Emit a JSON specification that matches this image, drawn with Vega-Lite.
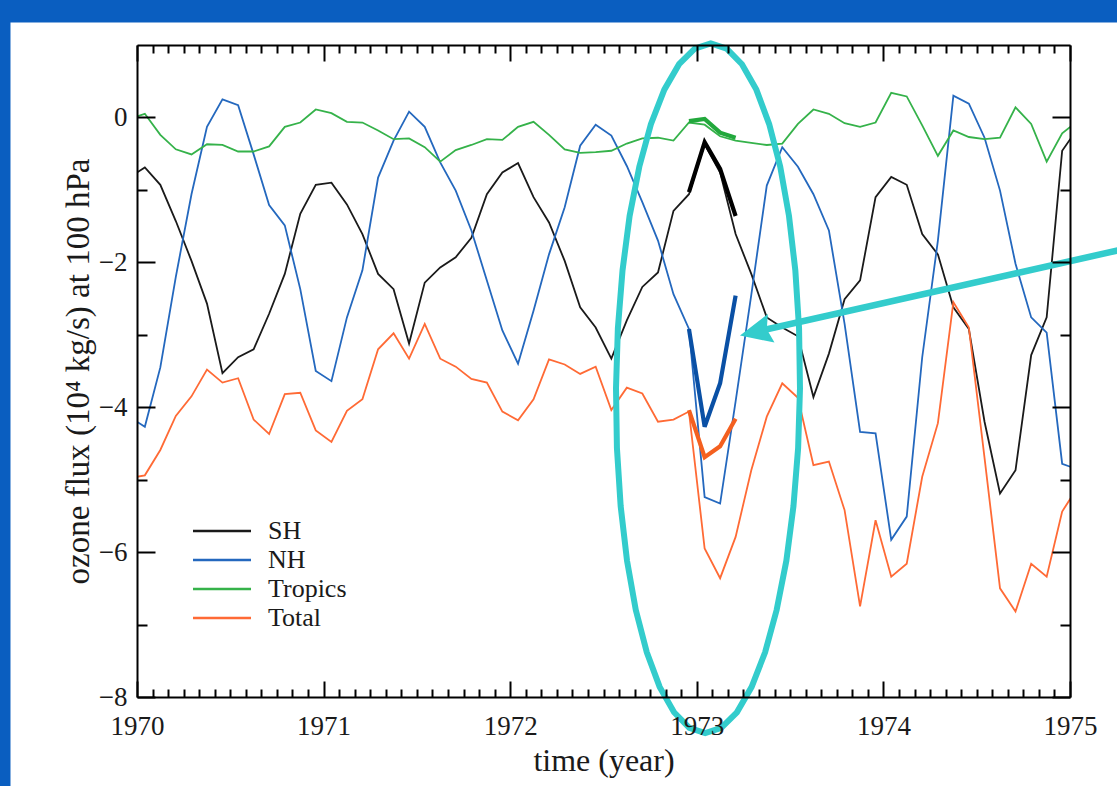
{
  "$schema": "https://vega.github.io/schema/vega-lite/v6.json",
  "width": 933,
  "height": 652,
  "autosize": {"type": "none"},
  "padding": {"left": 137, "top": 45, "right": 47, "bottom": 89},
  "background": "#0A5EC0",
  "config": {
    "view": {"stroke": null},
    "axis": {"grid": false, "domainColor": "#000", "domainWidth": 2, "tickColor": "#000", "tickWidth": 2, "labelFont": "Liberation Serif", "labelFontSize": 27, "labelColor": "#1a1a1a", "titleFont": "Liberation Serif", "titleFontSize": 31, "titleFontWeight": "normal", "titleColor": "#1a1a1a", "labelFlush": false, "labelOverlap": false}
  },
  "datasets": {
    "series": [
      {"t": 1969.958, "SH": -0.83, "NH": -4.13, "Tropics": -0.02, "Total": -4.98},
      {"t": 1970.042, "SH": -0.69, "NH": -4.27, "Tropics": 0.05, "Total": -4.94},
      {"t": 1970.125, "SH": -0.93, "NH": -3.45, "Tropics": -0.24, "Total": -4.59},
      {"t": 1970.208, "SH": -1.43, "NH": -2.2, "Tropics": -0.44, "Total": -4.12},
      {"t": 1970.292, "SH": -1.98, "NH": -1.06, "Tropics": -0.51, "Total": -3.85},
      {"t": 1970.375, "SH": -2.57, "NH": -0.13, "Tropics": -0.37, "Total": -3.48},
      {"t": 1970.458, "SH": -3.53, "NH": 0.25, "Tropics": -0.38, "Total": -3.66},
      {"t": 1970.542, "SH": -3.31, "NH": 0.17, "Tropics": -0.47, "Total": -3.6},
      {"t": 1970.625, "SH": -3.2, "NH": -0.51, "Tropics": -0.47, "Total": -4.17},
      {"t": 1970.708, "SH": -2.71, "NH": -1.21, "Tropics": -0.4, "Total": -4.37},
      {"t": 1970.792, "SH": -2.16, "NH": -1.49, "Tropics": -0.13, "Total": -3.82},
      {"t": 1970.875, "SH": -1.33, "NH": -2.37, "Tropics": -0.07, "Total": -3.8},
      {"t": 1970.958, "SH": -0.93, "NH": -3.5, "Tropics": 0.11, "Total": -4.32},
      {"t": 1971.042, "SH": -0.9, "NH": -3.64, "Tropics": 0.06, "Total": -4.48},
      {"t": 1971.125, "SH": -1.2, "NH": -2.76, "Tropics": -0.06, "Total": -4.05},
      {"t": 1971.208, "SH": -1.61, "NH": -2.11, "Tropics": -0.07, "Total": -3.89},
      {"t": 1971.292, "SH": -2.16, "NH": -0.83, "Tropics": -0.18, "Total": -3.2},
      {"t": 1971.375, "SH": -2.37, "NH": -0.32, "Tropics": -0.3, "Total": -2.98},
      {"t": 1971.458, "SH": -3.12, "NH": 0.08, "Tropics": -0.29, "Total": -3.33},
      {"t": 1971.542, "SH": -2.28, "NH": -0.13, "Tropics": -0.41, "Total": -2.85},
      {"t": 1971.625, "SH": -2.07, "NH": -0.62, "Tropics": -0.61, "Total": -3.33},
      {"t": 1971.708, "SH": -1.93, "NH": -1.01, "Tropics": -0.45, "Total": -3.44},
      {"t": 1971.792, "SH": -1.66, "NH": -1.56, "Tropics": -0.38, "Total": -3.61},
      {"t": 1971.875, "SH": -1.06, "NH": -2.25, "Tropics": -0.3, "Total": -3.66},
      {"t": 1971.958, "SH": -0.76, "NH": -2.94, "Tropics": -0.31, "Total": -4.06},
      {"t": 1972.042, "SH": -0.63, "NH": -3.4, "Tropics": -0.13, "Total": -4.18},
      {"t": 1972.125, "SH": -1.1, "NH": -2.67, "Tropics": -0.06, "Total": -3.89},
      {"t": 1972.208, "SH": -1.45, "NH": -1.89, "Tropics": -0.24, "Total": -3.34},
      {"t": 1972.292, "SH": -1.98, "NH": -1.24, "Tropics": -0.44, "Total": -3.41},
      {"t": 1972.375, "SH": -2.62, "NH": -0.39, "Tropics": -0.49, "Total": -3.54},
      {"t": 1972.458, "SH": -2.9, "NH": -0.1, "Tropics": -0.48, "Total": -3.44},
      {"t": 1972.542, "SH": -3.33, "NH": -0.25, "Tropics": -0.46, "Total": -4.04},
      {"t": 1972.625, "SH": -2.8, "NH": -0.67, "Tropics": -0.36, "Total": -3.73},
      {"t": 1972.708, "SH": -2.34, "NH": -1.17, "Tropics": -0.29, "Total": -3.81},
      {"t": 1972.792, "SH": -2.14, "NH": -1.7, "Tropics": -0.28, "Total": -4.2},
      {"t": 1972.875, "SH": -1.29, "NH": -2.44, "Tropics": -0.32, "Total": -4.17},
      {"t": 1972.958, "SH": -1.06, "NH": -2.92, "Tropics": -0.07, "Total": -4.06},
      {"t": 1973.042, "SH": -0.37, "NH": -5.24, "Tropics": -0.1, "Total": -5.95},
      {"t": 1973.125, "SH": -0.76, "NH": -5.33, "Tropics": -0.26, "Total": -6.36},
      {"t": 1973.208, "SH": -1.61, "NH": -3.92, "Tropics": -0.32, "Total": -5.79},
      {"t": 1973.292, "SH": -2.16, "NH": -2.45, "Tropics": -0.35, "Total": -4.87},
      {"t": 1973.375, "SH": -2.76, "NH": -0.94, "Tropics": -0.38, "Total": -4.13},
      {"t": 1973.458, "SH": -2.9, "NH": -0.41, "Tropics": -0.36, "Total": -3.67},
      {"t": 1973.542, "SH": -3.02, "NH": -0.68, "Tropics": -0.09, "Total": -3.87},
      {"t": 1973.625, "SH": -3.86, "NH": -1.06, "Tropics": 0.11, "Total": -4.8},
      {"t": 1973.708, "SH": -3.26, "NH": -1.56, "Tropics": 0.05, "Total": -4.75},
      {"t": 1973.792, "SH": -2.51, "NH": -2.85, "Tropics": -0.08, "Total": -5.42},
      {"t": 1973.875, "SH": -2.25, "NH": -4.34, "Tropics": -0.13, "Total": -6.75},
      {"t": 1973.958, "SH": -1.1, "NH": -4.36, "Tropics": -0.07, "Total": -5.56},
      {"t": 1974.042, "SH": -0.82, "NH": -5.83, "Tropics": 0.34, "Total": -6.34},
      {"t": 1974.125, "SH": -0.93, "NH": -5.51, "Tropics": 0.29, "Total": -6.16},
      {"t": 1974.208, "SH": -1.61, "NH": -3.31, "Tropics": -0.11, "Total": -4.96},
      {"t": 1974.292, "SH": -1.89, "NH": -1.7, "Tropics": -0.53, "Total": -4.22},
      {"t": 1974.375, "SH": -2.62, "NH": 0.3, "Tropics": -0.18, "Total": -2.55},
      {"t": 1974.458, "SH": -2.92, "NH": 0.19, "Tropics": -0.27, "Total": -2.9},
      {"t": 1974.542, "SH": -4.2, "NH": -0.28, "Tropics": -0.3, "Total": -4.7},
      {"t": 1974.625, "SH": -5.19, "NH": -1.01, "Tropics": -0.28, "Total": -6.5},
      {"t": 1974.708, "SH": -4.87, "NH": -2.02, "Tropics": 0.14, "Total": -6.82},
      {"t": 1974.792, "SH": -3.28, "NH": -2.76, "Tropics": -0.09, "Total": -6.16},
      {"t": 1974.875, "SH": -2.76, "NH": -2.97, "Tropics": -0.61, "Total": -6.34},
      {"t": 1974.958, "SH": -0.46, "NH": -4.78, "Tropics": -0.22, "Total": -5.44},
      {"t": 1975.042, "SH": -0.15, "NH": -4.86, "Tropics": -0.05, "Total": -5.1}
    ],
    "highlight": [
      {"t": 1972.958, "SH": -1.03, "NH": -2.92, "Tropics": -0.05, "Total": -4.04},
      {"t": 1973.042, "SH": -0.34, "NH": -4.27, "Tropics": -0.02, "Total": -4.69},
      {"t": 1973.125, "SH": -0.71, "NH": -3.67, "Tropics": -0.21, "Total": -4.54},
      {"t": 1973.208, "SH": -1.36, "NH": -2.46, "Tropics": -0.28, "Total": -4.16}
    ],
    "ellipse": [
      {"k": 0, "t": 1973.553, "v": -3.738},
      {"k": 1, "t": 1973.548, "v": -2.912},
      {"k": 2, "t": 1973.528, "v": -2.11},
      {"k": 3, "t": 1973.494, "v": -1.358},
      {"k": 4, "t": 1973.447, "v": -0.678},
      {"k": 5, "t": 1973.388, "v": -0.092},
      {"k": 6, "t": 1973.319, "v": 0.384},
      {"k": 7, "t": 1973.242, "v": 0.735},
      {"k": 8, "t": 1973.16, "v": 0.95},
      {"k": 9, "t": 1973.075, "v": 1.022},
      {"k": 10, "t": 1972.989, "v": 0.95},
      {"k": 11, "t": 1972.905, "v": 0.735},
      {"k": 12, "t": 1972.826, "v": 0.384},
      {"k": 13, "t": 1972.754, "v": -0.092},
      {"k": 14, "t": 1972.692, "v": -0.678},
      {"k": 15, "t": 1972.64, "v": -1.358},
      {"k": 16, "t": 1972.602, "v": -2.11},
      {"k": 17, "t": 1972.577, "v": -2.912},
      {"k": 18, "t": 1972.567, "v": -3.738},
      {"k": 19, "t": 1972.572, "v": -4.564},
      {"k": 20, "t": 1972.592, "v": -5.366},
      {"k": 21, "t": 1972.626, "v": -6.118},
      {"k": 22, "t": 1972.673, "v": -6.798},
      {"k": 23, "t": 1972.732, "v": -7.384},
      {"k": 24, "t": 1972.801, "v": -7.86},
      {"k": 25, "t": 1972.878, "v": -8.211},
      {"k": 26, "t": 1972.96, "v": -8.426},
      {"k": 27, "t": 1973.045, "v": -8.498},
      {"k": 28, "t": 1973.131, "v": -8.426},
      {"k": 29, "t": 1973.215, "v": -8.211},
      {"k": 30, "t": 1973.294, "v": -7.86},
      {"k": 31, "t": 1973.366, "v": -7.384},
      {"k": 32, "t": 1973.428, "v": -6.798},
      {"k": 33, "t": 1973.48, "v": -6.118},
      {"k": 34, "t": 1973.518, "v": -5.366},
      {"k": 35, "t": 1973.543, "v": -4.564},
      {"k": 36, "t": 1973.553, "v": -3.738}
    ],
    "arrow": [
      {"k": 0, "t": 1975.3, "v": -1.81},
      {"k": 1, "t": 1973.315, "v": -2.96}
    ],
    "head": [
      {"t": 1973.315, "v": -2.96}
    ]
  },
  "resolve": {"axis": {"x": "independent", "y": "independent"}},
  "layer": [
    {
      "data": {"values": [{"panel": "slide"}]},
      "mark": {"type": "rect", "fill": "#ffffff", "clip": false},
      "encoding": {
        "x": {"datum": 1969.322, "type": "quantitative", "scale": {"domain": [1970, 1975], "nice": false, "zero": false}, "axis": null},
        "x2": {"datum": 1976.5},
        "y": {"datum": 1.31, "type": "quantitative", "scale": {"domain": [-8, 1], "nice": false, "zero": false}, "axis": null},
        "y2": {"datum": -12}
      }
    },
    {
      "data": {"name": "series"},
      "transform": [{"fold": ["SH", "NH", "Tropics", "Total"], "as": ["series", "value"]}],
      "mark": {"type": "line", "strokeWidth": 1.8, "clip": true},
      "encoding": {
        "x": {"field": "t", "type": "quantitative",
          "axis": {"zindex": 1, "orient": "bottom", "values": [1970, 1971, 1972, 1973, 1974, 1975], "format": "d", "tickSize": -16, "labelPadding": 32, "title": "time (year)", "titlePadding": 6, "titleFontSize": 32, "domain": true}},
        "y": {"field": "value", "type": "quantitative",
          "axis": {"zindex": 1, "orient": "left", "values": [-8, -6, -4, -2, 0], "format": "d", "tickSize": -18, "labelPadding": 28, "title": "ozone flux (10⁴ kg/s) at 100 hPa", "titlePadding": 3, "titleFontSize": 33, "domain": true}},
        "color": {"field": "series", "type": "nominal",
          "scale": {"domain": ["SH", "NH", "Tropics", "Total"], "range": ["#1a1a1a", "#2468BE", "#35B24A", "#FF6A35"]},
          "legend": {"orient": "none", "legendX": 69, "legendY": 470, "title": null, "padding": 0, "symbolType": "M-2,0L2,0", "symbolSize": 841, "symbolStrokeWidth": 2.5, "symbolFillColor": "transparent", "labelFont": "Liberation Serif", "labelFontSize": 26, "labelColor": "#1a1a1a", "labelOffset": 30, "rowPadding": 0}},
        "detail": {"field": "series"}
      }
    },
    {
      "data": {"name": "highlight"},
      "transform": [{"fold": ["SH", "NH", "Tropics", "Total"], "as": ["series", "value"]}],
      "mark": {"type": "line", "strokeWidth": 4.2, "clip": true},
      "encoding": {
        "x": {"field": "t", "type": "quantitative",
          "axis": {"zindex": 1, "orient": "bottom", "values": [1970.0833, 1970.1667, 1970.25, 1970.3333, 1970.4167, 1970.5, 1970.5833, 1970.6667, 1970.75, 1970.8333, 1970.9167, 1971.0833, 1971.1667, 1971.25, 1971.3333, 1971.4167, 1971.5, 1971.5833, 1971.6667, 1971.75, 1971.8333, 1971.9167, 1972.0833, 1972.1667, 1972.25, 1972.3333, 1972.4167, 1972.5, 1972.5833, 1972.6667, 1972.75, 1972.8333, 1972.9167, 1973.0833, 1973.1667, 1973.25, 1973.3333, 1973.4167, 1973.5, 1973.5833, 1973.6667, 1973.75, 1973.8333, 1973.9167, 1974.0833, 1974.1667, 1974.25, 1974.3333, 1974.4167, 1974.5, 1974.5833, 1974.6667, 1974.75, 1974.8333, 1974.9167], "tickSize": -8, "labels": false, "title": null, "domain": false}},
        "y": {"field": "value", "type": "quantitative",
          "axis": {"zindex": 1, "orient": "left", "values": [-7, -5, -3, -1], "tickSize": -10, "labels": false, "title": null, "domain": false}},
        "stroke": {"field": "series", "type": "nominal",
          "scale": {"domain": ["SH", "NH", "Tropics", "Total"], "range": ["#000000", "#0A50A5", "#22A83C", "#F46020"]},
          "legend": null}
      }
    },
    {
      "data": {"name": "ellipse"},
      "mark": {"type": "line", "stroke": "#33CCCC", "strokeWidth": 6, "clip": false},
      "encoding": {
        "x": {"field": "t", "type": "quantitative",
          "axis": {"zindex": 1, "orient": "top", "values": [1970, 1971, 1972, 1973, 1974, 1975], "tickSize": -16, "labels": false, "title": null, "domain": true}},
        "y": {"field": "v", "type": "quantitative",
          "axis": {"zindex": 1, "orient": "right", "values": [-8, -6, -4, -2, 0], "tickSize": -18, "labels": false, "title": null, "domain": true}},
        "order": {"field": "k", "type": "quantitative"}
      }
    },
    {
      "data": {"name": "arrow"},
      "mark": {"type": "line", "stroke": "#33CCCC", "strokeWidth": 6.5, "clip": false},
      "encoding": {
        "x": {"field": "t", "type": "quantitative",
          "axis": {"zindex": 1, "orient": "top", "values": [1970.0833, 1970.1667, 1970.25, 1970.3333, 1970.4167, 1970.5, 1970.5833, 1970.6667, 1970.75, 1970.8333, 1970.9167, 1971.0833, 1971.1667, 1971.25, 1971.3333, 1971.4167, 1971.5, 1971.5833, 1971.6667, 1971.75, 1971.8333, 1971.9167, 1972.0833, 1972.1667, 1972.25, 1972.3333, 1972.4167, 1972.5, 1972.5833, 1972.6667, 1972.75, 1972.8333, 1972.9167, 1973.0833, 1973.1667, 1973.25, 1973.3333, 1973.4167, 1973.5, 1973.5833, 1973.6667, 1973.75, 1973.8333, 1973.9167, 1974.0833, 1974.1667, 1974.25, 1974.3333, 1974.4167, 1974.5, 1974.5833, 1974.6667, 1974.75, 1974.8333, 1974.9167], "tickSize": -8, "labels": false, "title": null, "domain": false}},
        "y": {"field": "v", "type": "quantitative",
          "axis": {"zindex": 1, "orient": "right", "values": [-7, -5, -3, -1], "tickSize": -10, "labels": false, "title": null, "domain": false}},
        "order": {"field": "k", "type": "quantitative"}
      }
    },
    {
      "data": {"name": "head"},
      "mark": {"type": "point", "shape": "M-1,0L1,-0.92L0.72,0L1,0.92Z", "size": 1024, "angle": 347, "filled": true, "fill": "#33CCCC", "opacity": 1, "strokeWidth": 0, "clip": false},
      "encoding": {
        "x": {"field": "t", "type": "quantitative", "axis": null},
        "y": {"field": "v", "type": "quantitative", "axis": null}
      }
    }
  ]
}
